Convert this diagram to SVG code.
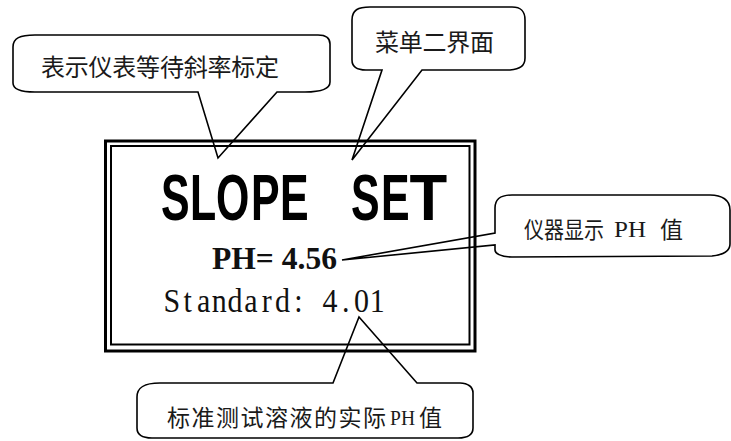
<svg xmlns="http://www.w3.org/2000/svg" width="731" height="441" viewBox="0 0 731 441">
<style>
.call{fill:#fff;stroke:#000;stroke-width:1.6;stroke-linejoin:miter}
.cjk{font-family:"Noto Sans CJK SC","Noto Sans",sans-serif;font-weight:normal;fill:#1a1a1a}
.ser{font-family:"Liberation Serif",serif;fill:#1a1a1a}
.frame{fill:none;stroke:#000}
.big{font-family:'Liberation Sans',Arial,sans-serif;font-weight:bold;font-size:65px}
</style>
<rect width="731" height="441" fill="#fff"/>
<g id="callouts">
<g id="callout-slope-wait">
<path class="call" d="M13,47 C13,38 20,35 35,35 L318,35 C326,35 330,38 330,44 L330,82 C330,89 322,92 305,92 L277,92 L218,158 L198,92 L35,92 C20,92 13,89 13,83 Z"/>
<text class="cjk" x="41" y="76" font-size="24" textLength="238" lengthAdjust="spacing">表示仪表等待斜率标定</text>
</g>
<g id="callout-menu2">
<path class="call" d="M352,20 C352,10 358,7 370,7 L512,7 C522,7 525,12 525,20 L525,58 C525,66 520,69 510,70 L422,70 L352,160 L382,70 L366,70 C356,70 352,66 352,60 Z"/>
<text class="cjk" x="375" y="51" font-size="24" textLength="119" lengthAdjust="spacing">菜单二界面</text>
</g>
<g id="callout-ph">
<path class="call" d="M495,208 C495,199 500,195 512,195 L710,195 C722,195 730,200 730,210 L730,244 C730,252 722,255 712,256 L512,257 C500,257 495,253 495,250 L495,245 L342,260 L495,233 Z"/>
<text class="cjk" x="524" y="238" font-size="23" textLength="80" lengthAdjust="spacingAndGlyphs">仪器显示</text>
<text class="ser" x="614" y="237" font-size="23" textLength="32" lengthAdjust="spacingAndGlyphs">PH</text>
<text class="cjk" x="660" y="238" font-size="23">值</text>
</g>
<g id="callout-standard">
<path class="call" d="M137,397 C137,388 143,383 160,383 L333,383 L359,317 L417,383 L460,383 C468,383 473,387 473,393 L473,428 C473,435 468,438 458,438 L152,438 C142,438 137,434 137,428 Z"/>
<text class="cjk" x="167" y="426" font-size="23" textLength="219" lengthAdjust="spacing">标准测试溶液的实际</text>
<text class="ser" x="390" y="425" font-size="22" textLength="25" lengthAdjust="spacingAndGlyphs">PH</text>
<text class="cjk" x="419" y="426" font-size="23">值</text>
</g>
</g>
<g id="display">
<rect class="frame" x="105.5" y="141" width="369.5" height="210" stroke-width="3"/>
<rect class="frame" x="111" y="146" width="358.5" height="198.5" stroke-width="2"/>
<text class="big" transform="translate(0,220) scale(0.66,1)" y="0" x="243.9 287.9 327.3 380.3 424.2 477 531.8 577.3">SLOPE SE</text>
<text class="big" transform="translate(0,220) scale(0.95,1)" y="0" x="431">T</text>
<text x="212" y="269" font-family="'Liberation Serif',serif" font-weight="bold" font-size="31" textLength="125" lengthAdjust="spacingAndGlyphs" fill="#111">PH= 4.56</text>
<text transform="translate(0,312) scale(1,1.12)" y="0" x="163.5 183.5 196.9 211.8 227.6 244.3 261.7 275 294.2 306.2 322.4 342 354 369.8" font-family="'Liberation Serif',serif" font-size="30" fill="#111">Standard: 4.01</text>
</g>
</svg>
